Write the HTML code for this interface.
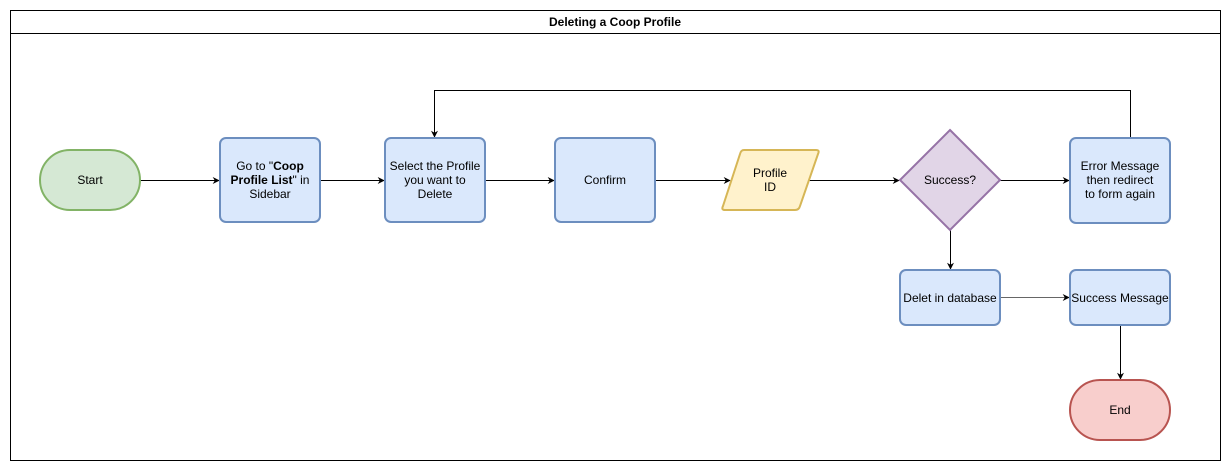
<!DOCTYPE html>
<html><head><meta charset="utf-8"><style>
html,body{margin:0;padding:0;background:#fff;}
svg{display:block;}
text{font-family:"Liberation Sans",Arial,sans-serif;font-size:12px;fill:#000;}
</style></head><body>
<svg width="1231" height="471" viewBox="0 0 1231 471" xmlns="http://www.w3.org/2000/svg">
<defs>
<marker id="a" viewBox="0 0 10 10" refX="9" refY="5" markerWidth="7" markerHeight="7" orient="auto" markerUnits="userSpaceOnUse"><path d="M0,0 L10,5 L0,10 L3,5 z" fill="#000"/></marker>
</defs>
<rect x="10.5" y="10.5" width="1210" height="450" fill="#fff" stroke="#000"/>
<line x1="10" y1="33.5" x2="1221" y2="33.5" stroke="#000"/>
<text x="615" y="26" text-anchor="middle" font-weight="bold">Deleting a Coop Profile</text>

<g stroke="#000" stroke-width="1" fill="none">
<line x1="140" y1="180.5" x2="219" y2="180.5" marker-end="url(#a)"/>
<line x1="320" y1="180.5" x2="384" y2="180.5" marker-end="url(#a)"/>
<line x1="485" y1="180.5" x2="554" y2="180.5" marker-end="url(#a)"/>
<line x1="655" y1="180.5" x2="730" y2="180.5" marker-end="url(#a)"/>
<line x1="809" y1="180.5" x2="899" y2="180.5" marker-end="url(#a)"/>
<line x1="1000" y1="180.5" x2="1069" y2="180.5" marker-end="url(#a)"/>
<line x1="950.5" y1="230" x2="950.5" y2="269" marker-end="url(#a)"/>
<line x1="1000" y1="297.5" x2="1069" y2="297.5" stroke="#666" marker-end="url(#a)"/>
<line x1="1120.5" y1="325" x2="1120.5" y2="379" marker-end="url(#a)"/>
<polyline points="1130.5,138 1130.5,90.5 434.5,90.5 434.5,137" marker-end="url(#a)"/>
</g>

<rect x="40" y="150" width="100" height="60" rx="30" fill="#d5e8d4" stroke="#82b366" stroke-width="2"/>
<text x="90" y="184" text-anchor="middle">Start</text>

<rect x="220" y="138" width="100" height="84" rx="6" fill="#dae8fc" stroke="#6c8ebf" stroke-width="2"/>
<text x="270" y="170" text-anchor="middle">Go to "<tspan font-weight="bold">Coop</tspan></text>
<text x="270" y="184" text-anchor="middle"><tspan font-weight="bold">Profile List</tspan>" in</text>
<text x="270" y="198" text-anchor="middle">Sidebar</text>

<rect x="385" y="138" width="100" height="84" rx="6" fill="#dae8fc" stroke="#6c8ebf" stroke-width="2"/>
<text x="435" y="170" text-anchor="middle">Select the Profile</text>
<text x="435" y="184" text-anchor="middle">you want to</text>
<text x="435" y="198" text-anchor="middle">Delete</text>

<rect x="555" y="138" width="100" height="84" rx="6" fill="#dae8fc" stroke="#6c8ebf" stroke-width="2"/>
<text x="605" y="184" text-anchor="middle">Confirm</text>

<path d="M744,150 L816,150 Q820,150 818,154 L800,206 Q799,210 795,210 L725,210 Q721,210 723,206 L740,154 Q741,150 744,150 Z" fill="#fff2cc" stroke="#d6b656" stroke-width="2"/>
<text x="770" y="177" text-anchor="middle">Profile</text>
<text x="770" y="191" text-anchor="middle">ID</text>

<polygon points="950,130 1000,180 950,230 900,180" fill="#e1d5e7" stroke="#9673a6" stroke-width="2"/>
<text x="950" y="184" text-anchor="middle">Success?</text>

<rect x="1070" y="138" width="100" height="85" rx="6" fill="#dae8fc" stroke="#6c8ebf" stroke-width="2"/>
<text x="1120" y="170" text-anchor="middle">Error Message</text>
<text x="1120" y="184" text-anchor="middle">then redirect</text>
<text x="1120" y="198" text-anchor="middle">to form again</text>

<rect x="900" y="270" width="100" height="55" rx="6" fill="#dae8fc" stroke="#6c8ebf" stroke-width="2"/>
<text x="950" y="302" text-anchor="middle">Delet in database</text>

<rect x="1070" y="270" width="100" height="55" rx="6" fill="#dae8fc" stroke="#6c8ebf" stroke-width="2"/>
<text x="1120" y="302" text-anchor="middle">Success Message</text>

<rect x="1070" y="380" width="100" height="60" rx="30" fill="#f8cecc" stroke="#b85450" stroke-width="2"/>
<text x="1120" y="414" text-anchor="middle">End</text>
</svg>
</body></html>
